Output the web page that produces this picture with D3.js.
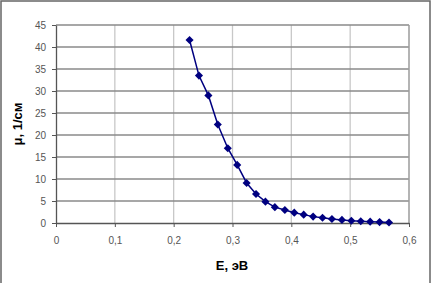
<!DOCTYPE html>
<html><head><meta charset="utf-8">
<script src="https://cdn.jsdelivr.net/npm/d3@7"></script>
<style>body{margin:0;background:#fff}svg{display:block}</style>
</head><body><svg id="c" width="432" height="283"></svg>
<script>
const energy = [0.227,0.243,0.259,0.275,0.292,0.308,0.324,0.340,0.356,0.372,0.389,0.405,0.421,0.437,0.453,0.469,0.486,0.502,0.518,0.534,0.550,0.566];
const mu = [41.6,33.5,29.0,22.4,17.0,13.2,9.1,6.6,4.85,3.6,2.95,2.35,1.9,1.45,1.2,0.9,0.7,0.5,0.4,0.3,0.2,0.1];
const xTicks = [0,0.1,0.2,0.3,0.4,0.5,0.6];
const yTicks = [0,5,10,15,20,25,30,35,40,45];
const xTitle = "E, эВ";
const yTitle = "μ, 1/см";

const svg = d3.select("#c");
const x = d3.scaleLinear().domain([0,0.6]).range([56,409]);
const y = d3.scaleLinear().domain([0,45]).range([223,25]);
const fmt = d => d3.format(".1~f")(d).replace(".", ",");

// outer frame
svg.append("rect").attr("x",1).attr("y",1).attr("width",429).attr("height",290)
  .attr("fill","#fff").attr("stroke","#666").attr("stroke-width",1.5);

// vertical grid
svg.append("g").selectAll("line").data(xTicks.slice(1)).join("line")
  .attr("x1",d=>x(d)).attr("x2",d=>x(d)).attr("y1",y(0)).attr("y2",y(45))
  .attr("stroke","#c8c8c8").attr("stroke-width",1.3);
// horizontal grid
svg.append("g").selectAll("line").data(yTicks.slice(1)).join("line")
  .attr("x1",x(0)).attr("x2",x(0.6)).attr("y1",d=>y(d)).attr("y2",d=>y(d))
  .attr("stroke","#8a8a8a").attr("stroke-width",1.3);
// right plot border
svg.append("line").attr("x1",x(0.6)).attr("x2",x(0.6)).attr("y1",y(0)).attr("y2",y(45))
  .attr("stroke","#a0a0a0").attr("stroke-width",1.3);

// axes
const xAxis = svg.append("g").attr("transform",`translate(0,${y(0)})`)
  .call(d3.axisBottom(x).tickValues(xTicks).tickFormat(fmt).tickSizeInner(4).tickSizeOuter(0).tickPadding(10));
const yAxis = svg.append("g").attr("transform",`translate(${x(0)},0)`)
  .call(d3.axisLeft(y).tickValues(yTicks).tickSizeInner(4).tickSizeOuter(0).tickPadding(6));
[xAxis,yAxis].forEach(g=>{
  g.select(".domain").attr("stroke","#555").attr("stroke-width",1.3);
  g.selectAll(".tick line").attr("stroke","#555");
  g.selectAll("text").attr("font-family","Arial, 'Liberation Sans', sans-serif").attr("font-size",10).attr("fill","#555");
});

// line
svg.append("path").datum(energy.map((e,i)=>[e,mu[i]]))
  .attr("fill","none").attr("stroke","#000080").attr("stroke-width",1.5)
  .attr("d",d3.line().x(d=>x(d[0])).y(d=>y(d[1])));
// markers
svg.append("g").selectAll("path").data(energy.map((e,i)=>[e,mu[i]])).join("path")
  .attr("transform",d=>`translate(${x(d[0])},${y(d[1])})`)
  .attr("d",d3.symbol(d3.symbolDiamond2,42)).attr("fill","#000080");

// titles
svg.append("text").attr("x",232).attr("y",270).attr("text-anchor","middle")
  .attr("font-family","Arial, 'Liberation Sans', sans-serif").attr("font-weight","bold").attr("font-size",13)
  .text(xTitle);
svg.append("text").attr("transform","translate(22,124) rotate(-90)").attr("text-anchor","middle")
  .attr("font-family","Arial, 'Liberation Sans', sans-serif").attr("font-weight","bold").attr("font-size",13)
  .text(yTitle);
</script></body></html>
